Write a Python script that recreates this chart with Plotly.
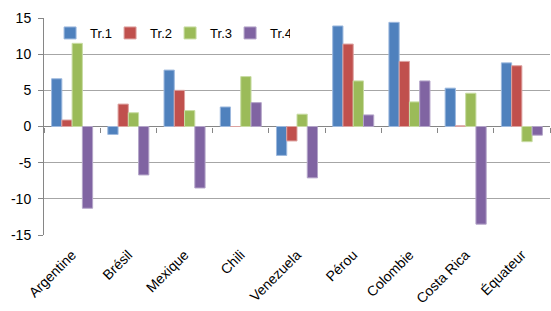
import plotly.graph_objects as go

categories = ["Argentine", "Brésil", "Mexique", "Chili", "Venezuela", "Pérou", "Colombie", "Costa Rica", "Équateur"]
tr1 = [6.6, -1.1, 7.8, 2.7, -4.0, 13.9, 14.4, 5.3, 8.8]
tr2 = [0.9, 3.1, 5.0, 0.0, -2.0, 11.4, 9.0, 0.1, 8.4]
tr3 = [11.5, 1.9, 2.2, 6.9, 1.7, 6.3, 3.4, 4.6, -2.1]
tr4 = [-11.3, -6.7, -8.5, 3.3, -7.1, 1.6, 6.3, -13.5, -1.2]
series_names = ["Tr.1", "Tr.2", "Tr.3", "Tr.4"]
colors = ["#4F81BD", "#C0504D", "#9BBB59", "#8064A2"]
edge_colors = ["#9DB9DE", "#DDA3A1", "#C8DCA3", "#B4A5C9"]
y_ticks = [-15, -10, -5, 0, 5, 10, 15]
y_tick_labels = ["-15", "-10", "-5", "0", "5", "10", "15"]

fig = go.Figure()
for name, vals, c, ec in zip(series_names, [tr1, tr2, tr3, tr4], colors, edge_colors):
    fig.add_trace(go.Bar(x=categories, y=vals, name=name, marker=dict(color=c, line=dict(color=ec, width=1))))

# invisible trace to carry the zero-line tick axis
fig.add_trace(go.Scatter(x=categories, y=[0]*len(categories), xaxis="x2", mode="markers",
                         marker=dict(opacity=0), showlegend=False, hoverinfo="skip"))

W, H = 551, 311
ml, mr, mt, mb = 44, 1, 18, 76
fig.update_layout(
    width=W, height=H,
    margin=dict(l=ml, r=mr, t=mt, b=mb, autoexpand=False),
    paper_bgcolor="white", plot_bgcolor="white",
    barmode="group", bargap=0.27, bargroupgap=0,
    font=dict(family="Liberation Sans, Arial, sans-serif", size=14, color="#000000"),
    legend=dict(orientation="h", x=0.012, y=1.0, xanchor="left", yanchor="top",
                font=dict(size=13), bgcolor="rgba(0,0,0,0)",
                entrywidth=15, entrywidthmode="pixels", itemwidth=30),
    xaxis=dict(type="category", categoryarray=categories, range=[-0.5, 8.5], automargin=False,
               tickangle=-45, showgrid=False, showline=False, ticks="",
               ticklabelstandoff=8, tickfont=dict(size=14)),
    xaxis2=dict(type="category", categoryarray=categories, range=[-0.5, 8.5], automargin=False,
                overlaying="x", anchor="free", position=0.5,
                tickson="boundaries", ticks="outside", ticklen=5, tickcolor="#868686",
                showticklabels=False, showgrid=False, showline=False, side="bottom"),
    yaxis=dict(range=[-15, 15], tickvals=y_ticks, ticktext=y_tick_labels, automargin=False,
               showgrid=True, gridcolor="#A6A6A6", gridwidth=1,
               zeroline=True, zerolinecolor="#868686", zerolinewidth=1,
               showline=True, linecolor="#868686", linewidth=1,
               ticks="outside", ticklen=5, tickcolor="#868686",
               ticklabelstandoff=4, tickfont=dict(size=14)),
)

fig.write_html("out.html", config={"displayModeBar": False},
               post_script="document.body.style.margin='0';")
